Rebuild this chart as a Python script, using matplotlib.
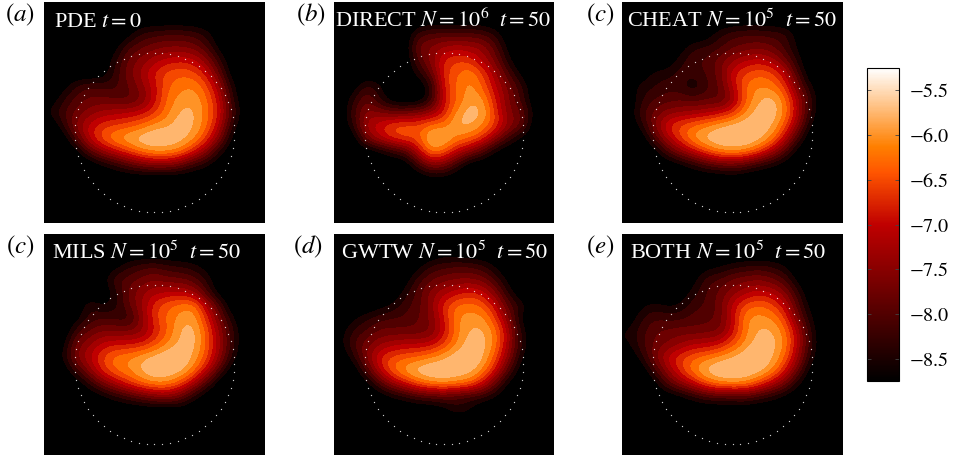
import numpy as np
import matplotlib
matplotlib.use('Agg')
import matplotlib.pyplot as plt
from matplotlib.colors import BoundaryNorm, ListedColormap, Normalize
from matplotlib.cm import ScalarMappable

plt.rcParams['font.family'] = ['Liberation Serif', 'DejaVu Serif']
plt.rcParams['mathtext.fontset'] = 'stix'

# coarse density grids, in units of -0.1 (57 means -5.7)
pde = [
    [90,90,90,90,90,90,90,90,90,90,90,90,90,90,90,90,90],
    [90,90,90,90,90,90,90,89,89,89,89,89,90,90,90,90,90],
    [90,90,90,90,90,90,88,83,82,81,81,82,84,90,90,90,90],
    [90,90,90,90,90,88,81,79,77,76,76,77,81,88,90,90,90],
    [90,90,90,90,90,84,78,75,72,70,69,70,75,83,90,90,90],
    [90,90,90,90,89,83,77,73,68,65,64,65,69,79,89,90,90],
    [90,88,83,81,82,82,79,75,70,64,62,61,65,73,86,90,90],
    [89,84,80,78,78,79,80,77,70,63,60,59,63,70,84,90,90],
    [86,81,78,75,73,72,71,70,67,62,58,58,62,69,81,90,90],
    [90,84,75,70,67,66,65,63,60,59,57,58,63,71,85,90,90],
    [90,90,80,70,64,60,58,56,55,56,57,60,66,76,88,90,90],
    [90,90,89,80,74,70,66,62,60,60,62,68,75,85,90,90,90],
    [90,90,90,90,87,84,80,77,75,75,78,83,86,90,90,90,90],
    [90,90,90,90,90,90,90,90,90,90,90,90,90,90,90,90,90],
    [90,90,90,90,90,90,90,90,90,90,90,90,90,90,90,90,90],
    [90,90,90,90,90,90,90,90,90,90,90,90,90,90,90,90,90],
    [90,90,90,90,90,90,90,90,90,90,90,90,90,90,90,90,90],
]
direct = [
    [90,90,90,90,90,90,90,90,90,90,90,90,90,90,90,90,90],
    [90,90,90,90,90,90,90,89,89,89,89,89,90,90,90,90,90],
    [90,90,90,90,90,90,82,80,80,80,80,81,84,90,90,90,90],
    [90,90,90,90,90,90,77,76,73,72,73,74,80,88,90,90,90],
    [90,90,90,90,90,90,81,75,68,66,67,72,77,86,90,90,90],
    [90,90,90,90,90,90,85,79,67,64,61,66,73,81,88,90,90],
    [90,89,82,85,90,90,90,85,68,63,60,64,71,77,83,90,90],
    [90,84,78,84,89,90,90,84,69,64,59,60,69,76,82,90,90],
    [90,82,75,76,78,78,76,74,69,60,57,58,67,76,78,88,90],
    [90,84,72,69,65,64,65,62,62,58,58,61,66,74,78,90,90],
    [90,90,77,71,67,65,65,57,57,62,63,67,75,83,88,90,90],
    [90,90,90,88,84,81,71,61,64,70,75,81,88,90,90,90,90],
    [90,90,90,90,90,90,82,75,76,83,90,90,90,90,90,90,90],
    [90,90,90,90,90,90,90,88,88,90,90,90,90,90,90,90,90],
    [90,90,90,90,90,90,90,90,90,90,90,90,90,90,90,90,90],
    [90,90,90,90,90,90,90,90,90,90,90,90,90,90,90,90,90],
    [90,90,90,90,90,90,90,90,90,90,90,90,90,90,90,90,90],
]
cheat = [
    [90,90,90,90,90,90,90,90,90,90,90,90,90,90,90,90,90],
    [90,90,90,90,90,90,90,90,89,89,89,89,90,90,90,90,90],
    [90,90,90,90,90,90,89,84,82,81,81,82,82,88,90,90,90],
    [90,90,90,90,88,84,83,82,79,78,77,78,82,87,90,90,90],
    [90,90,90,89,85,81,81,77,74,71,70,72,77,85,90,90,90],
    [90,89,85,85,82,83,81,78,69,66,64,65,70,81,90,90,90],
    [88,85,84,82,83,87,82,79,71,63,61,62,66,77,86,90,90],
    [90,84,81,80,79,80,79,80,75,64,59,57,62,72,83,90,90],
    [89,82,78,75,74,73,72,70,67,61,57,56,61,71,84,90,90],
    [90,85,76,68,65,63,61,59,57,56,56,58,64,75,87,90,90],
    [90,90,81,72,66,60,57,55,55,55,57,61,70,82,90,90,90],
    [90,90,89,81,75,70,65,61,60,61,65,72,80,89,90,90,90],
    [90,90,90,90,88,85,81,79,78,80,84,86,89,90,90,90,90],
    [90,90,90,90,90,90,90,90,89,90,90,90,90,90,90,90,90],
    [90,90,90,90,90,90,90,90,90,90,90,90,90,90,90,90,90],
    [90,90,90,90,90,90,90,90,90,90,90,90,90,90,90,90,90],
    [90,90,90,90,90,90,90,90,90,90,90,90,90,90,90,90,90],
]
mils = [
    [90,90,90,90,90,90,90,90,90,90,90,90,90,90,90,90,90],
    [90,90,90,90,90,90,90,90,90,90,90,90,90,90,90,90,90],
    [90,90,90,90,90,88,84,82,81,83,84,85,88,90,90,90,90],
    [90,90,90,90,88,81,80,78,76,78,78,80,84,90,90,90,90],
    [90,90,90,90,90,85,78,74,72,71,71,73,81,89,90,90,90],
    [90,90,90,83,87,85,79,74,67,64,62,61,71,81,90,90,90],
    [90,90,88,83,81,82,84,75,67,63,60,59,67,77,86,90,90],
    [90,90,82,78,76,76,76,75,69,64,58,57,64,74,83,90,90],
    [90,88,77,74,70,69,69,68,65,61,58,57,64,73,83,90,90],
    [90,86,76,71,66,62,61,59,57,55,55,59,65,74,85,90,90],
    [90,90,82,75,67,63,61,58,55,56,57,62,70,81,90,90,90],
    [90,90,90,84,77,72,67,63,61,61,65,72,81,90,90,90,90],
    [90,90,90,90,88,85,82,79,76,75,78,85,90,90,90,90,90],
    [90,90,90,90,90,90,90,90,90,90,89,90,90,90,90,90,90],
    [90,90,90,90,90,90,90,90,90,90,90,90,90,90,90,90,90],
    [90,90,90,90,90,90,90,90,90,90,90,90,90,90,90,90,90],
    [90,90,90,90,90,90,90,90,90,90,90,90,90,90,90,90,90],
]
gwtw = [
    [90,90,90,90,90,90,90,90,90,90,90,90,90,90,90,90,90],
    [90,90,90,90,90,90,90,90,88,89,90,90,90,90,90,90,90],
    [90,90,90,90,90,90,88,83,82,81,81,83,87,90,90,90,90],
    [90,90,90,90,90,89,82,79,77,76,76,77,82,88,90,90,90],
    [90,90,90,90,90,85,80,75,72,70,68,70,76,85,90,90,90],
    [90,90,90,88,86,82,80,75,67,63,62,64,70,80,84,90,90],
    [90,87,84,82,81,81,79,76,69,61,60,60,66,76,88,90,90],
    [88,83,81,78,78,78,78,77,70,62,58,58,62,72,85,90,90],
    [88,81,77,74,72,71,71,70,66,61,57,57,62,73,84,90,90],
    [90,85,76,68,65,64,63,61,59,56,55,58,65,75,87,90,90],
    [90,90,81,71,63,59,56,55,55,56,57,61,69,81,89,90,90],
    [90,90,89,81,74,69,64,61,60,61,63,69,79,88,90,90,90],
    [90,90,90,90,87,85,82,81,80,82,83,84,87,90,90,90,90],
    [90,90,90,90,90,90,90,90,88,84,86,90,90,90,90,90,90],
    [90,90,90,90,90,90,90,90,90,90,90,90,90,90,90,90,90],
    [90,90,90,90,90,90,90,90,90,90,90,90,90,90,90,90,90],
    [90,90,90,90,90,90,90,90,90,90,90,90,90,90,90,90,90],
]
both = [
    [90,90,90,90,90,90,90,90,90,90,90,90,90,90,90,90,90],
    [90,90,90,90,90,90,90,90,90,90,90,90,90,90,90,90,90],
    [90,90,90,90,90,90,88,87,85,84,83,84,86,90,90,90,90],
    [90,90,90,90,90,88,82,81,78,77,76,78,81,88,90,90,90],
    [90,90,90,90,89,85,81,78,75,72,70,71,75,83,90,90,90],
    [90,87,85,87,86,82,81,78,70,65,63,65,70,80,88,90,90],
    [89,84,81,82,82,80,80,78,71,61,60,61,65,77,86,90,90],
    [86,82,79,78,77,78,77,77,70,62,58,58,62,71,84,90,90],
    [87,82,78,76,74,71,71,69,65,60,57,57,61,71,83,90,90],
    [90,85,77,70,66,64,62,60,58,56,55,58,63,73,85,90,90],
    [90,90,82,74,67,61,57,55,55,55,57,60,68,78,89,90,90],
    [90,90,89,80,75,70,64,61,60,61,65,71,77,86,90,90,90],
    [90,90,90,90,88,85,82,81,81,80,83,85,88,90,90,90,90],
    [90,90,90,90,90,90,90,90,90,90,90,90,90,90,90,90,90],
    [90,90,90,90,90,90,90,90,90,90,90,90,90,90,90,90,90],
    [90,90,90,90,90,90,90,90,90,90,90,90,90,90,90,90,90],
    [90,90,90,90,90,90,90,90,90,90,90,90,90,90,90,90,90],
]

panel_data = [pde, direct, cheat, mils, gwtw, both]
panel_titles = [r'PDE $t=0$', r'DIRECT $N=10^6\ \ t=50$', r'CHEAT $N=10^5\ \ t=50$',
                r'MILS $N=10^5\ \ t=50$', r'GWTW $N=10^5\ \ t=50$', r'BOTH $N=10^5\ \ t=50$']
panel_labels = ['a', 'b', 'c', 'c', 'd', 'e']
cbar_ticks = [-5.5, -6.0, -6.5, -7.0, -7.5, -8.0, -8.5]

W, H = 954.0, 457.0
vmin, vmax = -8.75, -5.25

# panel boxes in pixels: left, top, width, height
boxes = [(44, 2, 221, 221), (334, 2, 220, 221), (622, 2, 221, 221),
         (44, 234, 221, 221), (334, 234, 220, 221), (622, 234, 221, 221)]
title_x = [54, 335, 627, 52, 341, 630]
label_x = [5, 296, 586, 6, 293, 586]

# filled-contour look: one flat colour per 0.25 wide band
levels = np.arange(-8.875, -5.6, 0.25)
base = plt.get_cmap('gist_heat')
full_norm = Normalize(vmin, vmax)
mids = 0.5 * (levels[:-1] + levels[1:])
band_cmap = ListedColormap(base(full_norm(mids)))
band_cmap.set_under('black')
band_cmap.set_over(base(full_norm(mids[-1])))
band_norm = BoundaryNorm(levels, band_cmap.N)

fig = plt.figure(figsize=(W / 100, H / 100), dpi=100)


def px_axes(left, top, w, h):
    return fig.add_axes([left / W, 1 - (top + h) / H, w / W, h / H])


# dotted circle
theta = np.linspace(0, 2 * np.pi, 64, endpoint=False)
circ_r, circ_x, circ_y = 0.722, 0.0, -0.18

for i, box in enumerate(boxes):
    ax = px_axes(*box)
    z = np.array(panel_data[i], dtype=float) / -10.0
    ax.imshow(z, extent=(-1, 1, -1, 1), cmap=band_cmap, norm=band_norm,
              interpolation='bicubic', interpolation_stage='data', aspect='auto')
    ax.scatter(circ_x + circ_r * np.cos(theta), circ_y + circ_r * np.sin(theta),
               s=0.9, c='white', linewidths=0, alpha=0.8)
    ax.set_xlim(-1, 1)
    ax.set_ylim(-1, 1)
    ax.set_xticks([])
    ax.set_yticks([])
    for s in ax.spines.values():
        s.set_visible(False)
    fig.text(title_x[i] / W, 1 - (box[1] + 25) / H, panel_titles[i], color='white',
             fontsize=16, ha='left', va='baseline')
    fig.text(label_x[i] / W, 1 - (box[1] + 19) / H, '$(' + panel_labels[i] + ')$',
             color='black', fontsize=18, ha='left', va='baseline')

cax = px_axes(867, 68, 32, 313)
sm = ScalarMappable(norm=full_norm, cmap=base)
cb = fig.colorbar(sm, cax=cax, ticks=cbar_ticks)
cb.ax.tick_params(direction='in', length=3, width=0.6, left=True, right=True,
                  color='#444444', labelsize=14.5, pad=7)
cb.outline.set_linewidth(0.8)
cb.ax.set_yticklabels(['$-%.1f$' % abs(t) for t in cbar_ticks])

fig.savefig('out.png', dpi=100)
